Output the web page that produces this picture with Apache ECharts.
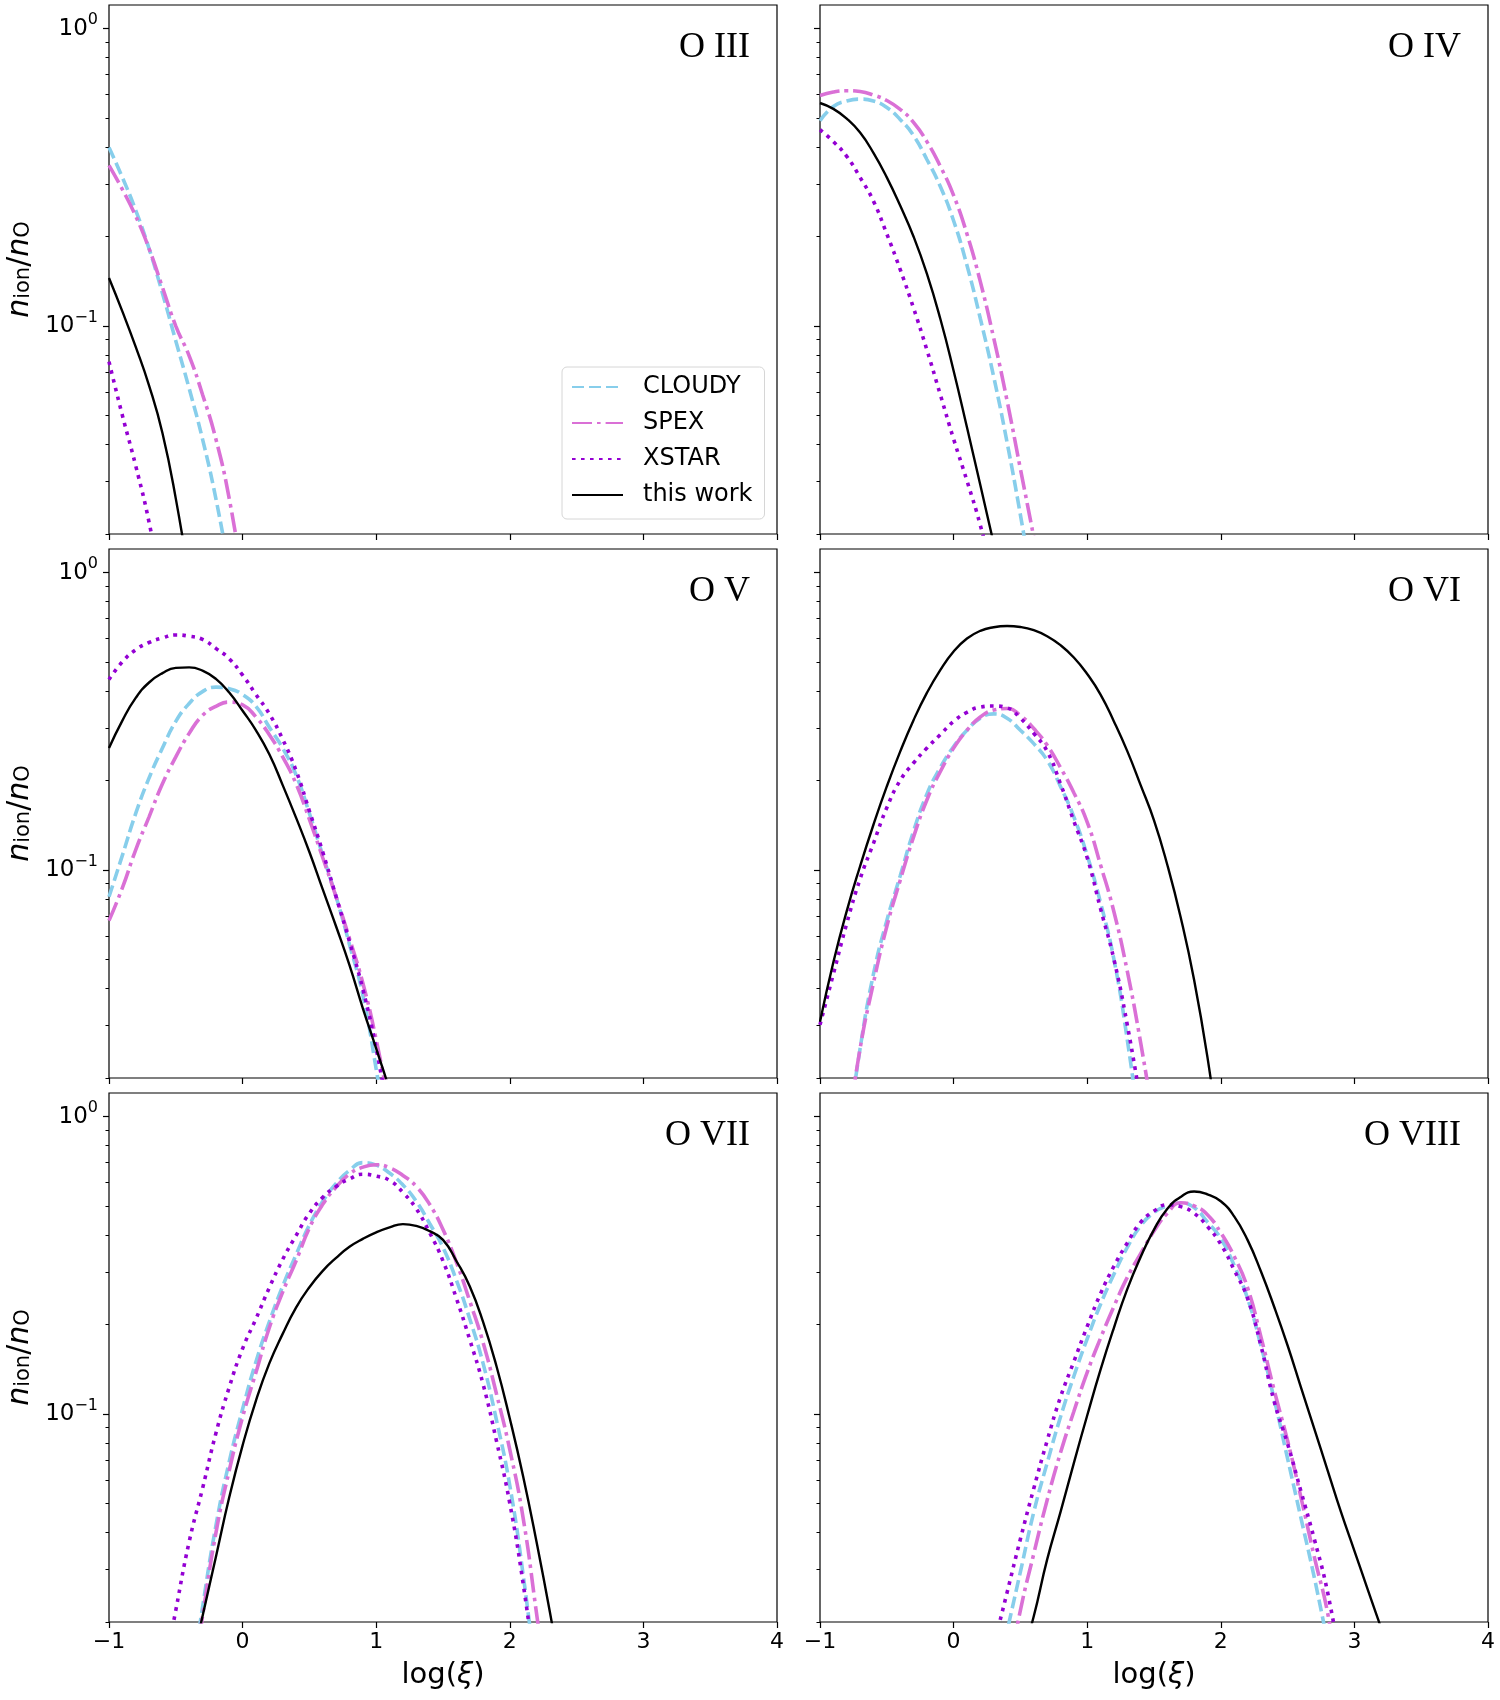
<!DOCTYPE html>
<html lang="en">
<head>
    <meta charset="UTF-8">
    <title>O ion fractions</title>
    <style>
        html, body { margin: 0; padding: 0; background: #fff; }
        #main { width: 1500px; height: 1700px; }
    </style>
</head>
<body>
<div id="main"></div>

<script src="https://cdn.jsdelivr.net/npm/echarts@6/dist/echarts.min.js"></script>
<script type="text/javascript">
    // log(xi) sampling used by every curve below (null = below the plot)
    var XI = [-1.0, -0.9, -0.8, -0.7, -0.6, -0.5, -0.4, -0.3, -0.2, -0.1,
              0.0, 0.1, 0.2, 0.3, 0.4, 0.5, 0.6, 0.7, 0.8, 0.9,
              1.0, 1.1, 1.2, 1.3, 1.4, 1.5, 1.6, 1.7, 1.8, 1.9,
              2.0, 2.1, 2.2, 2.3, 2.4, 2.5, 2.6, 2.7, 2.8, 2.9,
              3.0, 3.1, 3.2, 3.3];

    var PANELS = ['O III', 'O IV', 'O V', 'O VI', 'O VII', 'O VIII'];
    var X_TICKS = [-1, 0, 1, 2, 3, 4];
    var Y_MAJOR = [0.1, 1];
    var Y_MINOR = [0.02, 0.03, 0.04, 0.05, 0.06, 0.07, 0.08, 0.09,
                   0.2, 0.3, 0.4, 0.5, 0.6, 0.7, 0.8, 0.9];
    var Y_MIN = 0.02, Y_MAX = 1.2;

    // O III
    var O3_CLOUDY = [0.398, 0.316, 0.245, 0.182, 0.129, 0.0891, 0.0617, 0.0417, 0.0263, 0.0151];
    var O3_SPEX   = [0.347, 0.288, 0.234, 0.182, 0.135, 0.100, 0.0794, 0.0589, 0.0417, 0.0263, 0.0141];
    var O3_XSTAR  = [0.0759, 0.0501, 0.0339, 0.0219, 0.0126];
    var O3_WORK   = [0.145, 0.112, 0.0851, 0.0631, 0.0437, 0.0263, 0.0141];

    // O IV
    var O4_CLOUDY = [0.490, 0.547, 0.571, 0.579, 0.571, 0.543, 0.495, 0.437, 0.363, 0.295,
                     0.226, 0.160, 0.106, 0.0676, 0.0407, 0.0232, 0.0126];
    var O4_SPEX   = [0.596, 0.612, 0.618, 0.614, 0.598, 0.573, 0.535, 0.484, 0.417, 0.345,
                     0.275, 0.204, 0.141, 0.0912, 0.0562, 0.0331, 0.0195, 0.0112];
    var O4_XSTAR  = [0.457, 0.417, 0.372, 0.316, 0.263, 0.204, 0.155, 0.115, 0.0832, 0.0589,
                     0.0417, 0.0302, 0.0214, 0.0141];
    var O4_WORK   = [0.562, 0.537, 0.498, 0.447, 0.382, 0.316, 0.254, 0.200, 0.150, 0.106,
                     0.0708, 0.0457, 0.0292, 0.0186, 0.0119];

    // O V
    var O5_CLOUDY = [0.0813, 0.112, 0.155, 0.204, 0.257, 0.316, 0.363, 0.398, 0.412, 0.407,
                     0.389, 0.355, 0.302, 0.257, 0.209, 0.155, 0.112, 0.0813, 0.0562, 0.0380,
                     0.0214, 0.0112];
    var O5_SPEX   = [0.0676, 0.0871, 0.117, 0.151, 0.195, 0.240, 0.288, 0.331, 0.355, 0.367,
                     0.359, 0.327, 0.285, 0.240, 0.195, 0.148, 0.110, 0.0813, 0.0589, 0.0417,
                     0.0269, 0.0158];
    var O5_XSTAR  = [0.437, 0.501, 0.550, 0.582, 0.603, 0.617, 0.611, 0.596, 0.556, 0.513,
                     0.452, 0.389, 0.335, 0.275, 0.216, 0.158, 0.115, 0.0813, 0.0575, 0.0398,
                     0.0251, 0.0141];
    var O5_WORK   = [0.257, 0.318, 0.379, 0.427, 0.459, 0.478, 0.480, 0.468, 0.439, 0.395,
                     0.343, 0.295, 0.245, 0.193, 0.150, 0.115, 0.0861, 0.0646, 0.0479, 0.0343,
                     0.0251, 0.0182, 0.0126];

    // O VI
    var O6_CLOUDY = [null, null, 0.0120, 0.0251, 0.0447, 0.0676, 0.0955, 0.135, 0.180, 0.221,
                     0.260, 0.295, 0.324, 0.335, 0.324, 0.295, 0.266, 0.234, 0.191, 0.151,
                     0.112, 0.0776, 0.0501, 0.0269, 0.0126];
    var O6_SPEX   = [null, null, 0.0126, 0.0251, 0.0417, 0.0646, 0.0923, 0.129, 0.172, 0.214,
                     0.257, 0.295, 0.327, 0.345, 0.349, 0.331, 0.299, 0.263, 0.221, 0.182,
                     0.145, 0.104, 0.0724, 0.0457, 0.0263, 0.0141];
    var O6_XSTAR  = [0.0302, 0.0447, 0.0661, 0.0933, 0.123, 0.162, 0.200, 0.229, 0.257, 0.285,
                     0.316, 0.339, 0.353, 0.356, 0.351, 0.324, 0.288, 0.251, 0.195, 0.146,
                     0.110, 0.0741, 0.0501, 0.0302, 0.0166];
    var O6_WORK   = [0.0309, 0.0490, 0.0728, 0.103, 0.142, 0.191, 0.250, 0.319, 0.394, 0.470,
                     0.543, 0.600, 0.637, 0.655, 0.661, 0.656, 0.640, 0.611, 0.570, 0.518,
                     0.456, 0.389, 0.316, 0.251, 0.193, 0.147, 0.104, 0.0693, 0.0428, 0.0235,
                     0.0112];

    // O VII
    var O7_CLOUDY = [null, null, null, null, null, null, 0.0112, 0.0224, 0.0421, 0.0692,
                     0.104, 0.150, 0.204, 0.269, 0.343, 0.432, 0.519, 0.596, 0.659, 0.700,
                     0.687, 0.646, 0.589, 0.519, 0.437, 0.363, 0.282, 0.209, 0.148, 0.0955,
                     0.0575, 0.0288, 0.0126];
    var O7_SPEX   = [null, null, null, null, null, null, 0.0107, 0.0209, 0.0398, 0.0646,
                     0.0977, 0.138, 0.195, 0.257, 0.327, 0.422, 0.507, 0.579, 0.641, 0.676,
                     0.689, 0.673, 0.634, 0.582, 0.507, 0.417, 0.324, 0.240, 0.174, 0.117,
                     0.0759, 0.0447, 0.0214, 0.0100];
    var O7_XSTAR  = [null, null, null, null, 0.0126, 0.0219, 0.0372, 0.0562, 0.0861, 0.123,
                     0.166, 0.209, 0.266, 0.331, 0.398, 0.473, 0.535, 0.582, 0.617, 0.640,
                     0.631, 0.610, 0.556, 0.490, 0.407, 0.327, 0.245, 0.178, 0.126, 0.0813,
                     0.0501, 0.0269, 0.0126];
    var O7_WORK   = [null, null, null, null, null, null, 0.0132, 0.0209, 0.0331, 0.0525,
                     0.0785, 0.111, 0.148, 0.186, 0.228, 0.267, 0.303, 0.335, 0.365, 0.388,
                     0.408, 0.424, 0.435, 0.429, 0.412, 0.385, 0.327, 0.269, 0.204, 0.145,
                     0.0966, 0.0617, 0.0372, 0.0216, 0.0120];

    // O VIII
    var O8_CLOUDY = [null, null, null, null, null, null, null, null, null, null,
                     null, null, null, 0.0117, 0.0186, 0.0295, 0.0468, 0.0684, 0.0977, 0.134,
                     0.179, 0.234, 0.295, 0.363, 0.429, 0.476, 0.501, 0.512, 0.495, 0.442,
                     0.389, 0.316, 0.245, 0.170, 0.112, 0.0708, 0.0447, 0.0282, 0.0170];
    var O8_SPEX   = [null, null, null, null, null, null, null, null, null, null,
                     null, null, null, null, 0.0126, 0.0219, 0.0339, 0.0513, 0.0741, 0.102,
                     0.138, 0.180, 0.230, 0.288, 0.346, 0.412, 0.473, 0.513, 0.501, 0.468,
                     0.407, 0.339, 0.266, 0.182, 0.120, 0.0813, 0.0525, 0.0331, 0.0214, 0.0112];
    var O8_XSTAR  = [null, null, null, null, null, null, null, null, null, null,
                     null, null, null, 0.0166, 0.0251, 0.0380, 0.0562, 0.0813, 0.114, 0.150,
                     0.197, 0.254, 0.314, 0.376, 0.441, 0.481, 0.505, 0.498, 0.473, 0.427,
                     0.372, 0.305, 0.245, 0.170, 0.110, 0.0794, 0.0550, 0.0380, 0.0251, 0.0141];
    var O8_WORK   = [null, null, null, null, null, null, null, null, null, null,
                     null, null, null, null, null, 0.0145, 0.0209, 0.0324, 0.0468, 0.0684,
                     0.0989, 0.141, 0.195, 0.263, 0.337, 0.417, 0.490, 0.537, 0.560, 0.548,
                     0.519, 0.462, 0.385, 0.302, 0.229, 0.170, 0.123, 0.0891, 0.0646, 0.0468,
                     0.0347, 0.0257, 0.0191, 0.0141];

    var CLOUDY = [O3_CLOUDY, O4_CLOUDY, O5_CLOUDY, O6_CLOUDY, O7_CLOUDY, O8_CLOUDY];
    var SPEX   = [O3_SPEX, O4_SPEX, O5_SPEX, O6_SPEX, O7_SPEX, O8_SPEX];
    var XSTAR  = [O3_XSTAR, O4_XSTAR, O5_XSTAR, O6_XSTAR, O7_XSTAR, O8_XSTAR];
    var WORK   = [O3_WORK, O4_WORK, O5_WORK, O6_WORK, O7_WORK, O8_WORK];

    var FONT = 'DejaVu Sans';
    var GRID_LEFT = [109, 820];
    var GRID_TOP = [5, 549, 1093];
    var GRID_W = 668, GRID_H = 529;

    // 线型：名称、颜色、线宽、虚线样式
    var STYLES = [
        { name: 'CLOUDY',    color: '#87CEEB', width: 3.6, type: [12, 5],         data: CLOUDY },
        { name: 'SPEX',      color: '#DA70D6', width: 3.6, type: [20, 5, 3.6, 5], data: SPEX },
        { name: 'XSTAR',     color: '#9400D3', width: 3.6, type: [3.6, 5.4],      data: XSTAR },
        { name: 'this work', color: '#000000', width: 2.4, type: 'solid',         data: WORK }
    ];

    function toPairs(values) {
        var out = [];
        values.forEach(function (v, i) {
            if (v !== null && v !== undefined) out.push([XI[i], v]);
        });
        return out;
    }

    function minusSign(v) {
        return v < 0 ? '\u2212' + (-v) : String(v);
    }

    var logMin = Math.log10(Y_MIN), logMax = Math.log10(Y_MAX);
    var majorLog = Y_MAJOR.map(function (v) { return Math.log10(v); });
    var minorLog = Y_MINOR.map(function (v) { return Math.log10(v); });

    var grids = [], xAxes = [], yAxes = [], series = [], graphics = [];

    PANELS.forEach(function (label, p) {
        var row = Math.floor(p / 2), col = p % 2;
        var bottomRow = row === 2, leftCol = col === 0;

        grids.push({
            left: GRID_LEFT[col], top: GRID_TOP[row], width: GRID_W, height: GRID_H,
            show: true, borderColor: '#000', borderWidth: 1.2, backgroundColor: 'transparent'
        });

        xAxes.push({
            type: 'value', gridIndex: p, position: 'bottom',
            min: X_TICKS[0], max: X_TICKS[X_TICKS.length - 1], interval: 1,
            splitLine: { show: false },
            axisLine: { show: false, onZero: false },
            axisTick: { show: true, length: 6, lineStyle: { color: '#000', width: 1.2 } },
            axisLabel: {
                show: bottomRow, margin: 9, fontSize: 22, color: '#000', fontFamily: FONT,
                formatter: function (v) { return minusSign(v); }
            },
            name: bottomRow ? '{r|log(}{i|ξ}{r|)}' : '',
            nameLocation: 'middle', nameGap: 39,
            nameTextStyle: {
                color: '#000', fontFamily: FONT, fontSize: 29,
                rich: {
                    r: { fontFamily: FONT, fontSize: 29, color: '#000' },
                    i: { fontFamily: FONT, fontSize: 29, color: '#000', fontStyle: 'italic' }
                }
            }
        });

        // 数据用的对数轴（不显示），刻度由下面两根值轴给出
        yAxes[p] = {
            type: 'log', logBase: 10, gridIndex: p, min: Y_MIN, max: Y_MAX, position: 'left',
            axisLine: { show: false, onZero: false }, axisTick: { show: false }, axisLabel: { show: false },
            splitLine: { show: false }, minorTick: { show: false }
        };
        yAxes[6 + p] = {
            type: 'value', gridIndex: p, min: logMin, max: logMax, position: 'left',
            axisLine: { show: false, onZero: false }, splitLine: { show: false },
            axisTick: { show: true, length: 6, customValues: majorLog, lineStyle: { color: '#000', width: 1.2 } },
            axisLabel: {
                show: leftCol, customValues: majorLog, margin: 11,
                formatter: function (v) {
                    return '{b|10}{sup|' + minusSign(Math.round(v)) + '}';
                },
                rich: {
                    b: { fontSize: 23, fontFamily: FONT, color: '#000' },
                    sup: { fontSize: 16, fontFamily: FONT, color: '#000', padding: [0, 0, 17, 0] }
                }
            },
            name: leftCol ? '{i|n}{s|ion}{r|/}{i|n}{s|O}' : '',
            nameLocation: 'middle', nameRotate: 90, nameGap: 74,
            nameTextStyle: {
                color: '#000', fontFamily: FONT, fontSize: 30,
                rich: {
                    i: { fontFamily: FONT, fontSize: 30, fontStyle: 'italic', color: '#000' },
                    r: { fontFamily: FONT, fontSize: 30, color: '#000' },
                    s: { fontFamily: FONT, fontSize: 21, color: '#000', padding: [8, 0, 0, 0] }
                }
            }
        };
        yAxes[12 + p] = {
            type: 'value', gridIndex: p, min: logMin, max: logMax, position: 'left',
            axisLine: { show: false, onZero: false }, splitLine: { show: false }, axisLabel: { show: false },
            axisTick: { show: true, length: 3.5, customValues: minorLog, lineStyle: { color: '#000', width: 1 } }
        };

        STYLES.forEach(function (st) {
            series.push({
                type: 'line', name: st.name, xAxisIndex: p, yAxisIndex: p,
                data: toPairs(st.data[p]),
                symbol: 'none', showSymbol: false, smooth: 0.5, clip: true,
                color: st.color,
                lineStyle: { color: st.color, width: st.width, type: st.type },
                emphasis: { disabled: true }
            });
        });

        graphics.push({
            type: 'text',
            x: GRID_LEFT[col] + GRID_W - 27,
            y: GRID_TOP[row] + 43,
            style: {
                text: label, fill: '#000', align: 'right', verticalAlign: 'middle',
                font: '36px "Liberation Serif", "Times New Roman", serif'
            }
        });
    });

    var myChart = echarts.init(document.getElementById('main'));
    myChart.setOption({
        backgroundColor: '#fff',
        animation: false,
        grid: grids,
        xAxis: xAxes,
        yAxis: yAxes,
        series: series,
        graphic: graphics,
        legend: {
            data: STYLES.map(function (s) { return s.name; }),
            orient: 'vertical',
            left: 562, top: 367,
            padding: [8, 12, 12, 9],
            itemGap: 12, itemWidth: 51, itemHeight: 14,
            itemStyle: { color: 'transparent', borderWidth: 0, opacity: 0 },
            backgroundColor: '#fff',
            borderColor: '#d6d6d6', borderWidth: 1, borderRadius: 5,
            textStyle: { fontFamily: FONT, fontSize: 24, color: '#000', padding: [0, 0, 0, 15] }
        }
    });
</script>
</body>
</html>
